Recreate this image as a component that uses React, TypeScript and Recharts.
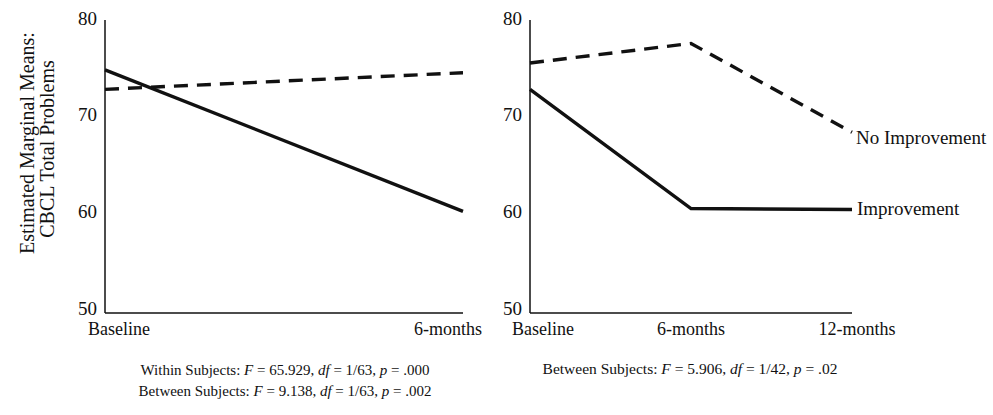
import React from 'react';
import { LineChart, Line, XAxis, YAxis } from 'recharts';

// left panel: two time points
const leftTimes = ['Baseline', '6-months'];
const leftImprovement = [74.9, 60.4];
const leftNoImprovement = [72.9, 74.6];

// right panel: three time points
const rightTimes = ['Baseline', '6-months', '12-months'];
const rightImprovement = [72.9, 60.7, 60.6];
const rightNoImprovement = [75.6, 77.6, 68.5];

const seriesNames = ['Improvement', 'No Improvement'];
const yTicks = [50, 60, 70, 80];

const leftNotes = [
  ['Within Subjects: ', '65.929', '1/63', '.000'],
  ['Between Subjects: ', '9.138', '1/63', '.002'],
];
const rightNotes = [['Between Subjects: ', '5.906', '1/42', '.02']];

const FONT = '"Liberation Serif", "Times New Roman", serif';

const leftData = leftTimes.map((t, i) => ({
  time: t,
  improvement: leftImprovement[i],
  noImprovement: leftNoImprovement[i],
}));

const rightData = rightTimes.map((t, i) => ({
  time: t,
  improvement: rightImprovement[i],
  noImprovement: rightNoImprovement[i],
}));

// labels in the original sit a little off their points
const ShiftedTick = ({ x, y, payload, offsets }: any) => (
  <text
    x={x + (offsets[payload.index] || 0)}
    y={y + 1}
    dy="0.71em"
    textAnchor="middle"
    fontFamily={FONT}
    fontSize={18}
    fill="#111"
  >
    {payload.value}
  </text>
);

// y labels ride a bit above their gridline, more so near the bottom
const YTick = ({ x, y, payload }: any) => (
  <text
    x={x}
    y={y - 2 - (80 - payload.value) / 10}
    dy="0.35em"
    textAnchor="end"
    fontFamily={FONT}
    fontSize={19}
    fill="#111"
  >
    {payload.value}
  </text>
);

const YTitle = () => (
  <g fontFamily={FONT} fontSize={20} fill="#111" textAnchor="middle">
    <text x={34} y={143} transform="rotate(-90, 34, 143)">Estimated Marginal Means:</text>
    <text x={54} y={149} transform="rotate(-90, 54, 149)">CBCL Total Problems</text>
  </g>
);

const endLabel = (name: string, count: number, dx: number, dy: number) => (props: any) => {
  const { x, y, index } = props;
  if (index !== count - 1) return null;
  return (
    <text x={x + dx} y={y + dy} dy="0.35em" fontFamily={FONT} fontSize={19} fill="#111">
      {name}
    </text>
  );
};

const Note = ({ parts }: { parts: string[] }) => (
  <div style={{ whiteSpace: 'nowrap' }}>
    {parts[0]}
    <i>F</i> = {parts[1]}, <i>df</i> = {parts[2]}, <i>p</i> = {parts[3]}
  </div>
);

const axisLine = { stroke: '#111', strokeWidth: 1.5 };

export default function App() {
  return (
    <div style={{ position: 'absolute', left: 0, top: 0, width: 993, height: 415, background: '#fff' }}>
      <div style={{ position: 'absolute', left: 0, top: 0 }}>
        <LineChart width={500} height={345} data={leftData} margin={{ top: 20, right: 37, left: 0, bottom: 0 }}>
          <XAxis
            dataKey="time"
            axisLine={axisLine}
            tickLine={false}
            height={32}
            interval={0}
            tick={<ShiftedTick offsets={[14, -15]} />}
          />
          <YAxis
            domain={[50, 80]}
            ticks={yTicks}
            width={105}
            axisLine={axisLine}
            tickLine={false}
            tick={<YTick />}
            label={{ content: () => <YTitle /> }}
          />
          <Line
            dataKey="noImprovement"
            stroke="#111"
            strokeWidth={3.4}
            strokeDasharray="14 9"
            dot={false}
            isAnimationActive={false}
          />
          <Line dataKey="improvement" stroke="#111" strokeWidth={3.4} dot={false} isAnimationActive={false} />
        </LineChart>
      </div>

      <div style={{ position: 'absolute', left: 500, top: 0 }}>
        <LineChart width={493} height={345} data={rightData} margin={{ top: 20, right: 141, left: 0, bottom: 0 }}>
          <XAxis
            dataKey="time"
            axisLine={axisLine}
            tickLine={false}
            height={32}
            interval={0}
            tick={<ShiftedTick offsets={[13, 0, 5]} />}
          />
          <YAxis
            domain={[50, 80]}
            ticks={yTicks}
            width={30}
            axisLine={axisLine}
            tickLine={false}
            tick={<YTick />}
          />
          <Line
            dataKey="noImprovement"
            name={seriesNames[1]}
            stroke="#111"
            strokeWidth={3.4}
            strokeDasharray="14 9"
            dot={false}
            isAnimationActive={false}
            label={endLabel(seriesNames[1], rightTimes.length, 4, 5)}
          />
          <Line
            dataKey="improvement"
            name={seriesNames[0]}
            stroke="#111"
            strokeWidth={3.4}
            dot={false}
            isAnimationActive={false}
            label={endLabel(seriesNames[0], rightTimes.length, 5, -1)}
          />
        </LineChart>
      </div>

      <div
        style={{
          position: 'absolute',
          left: 85,
          width: 400,
          top: 360,
          textAlign: 'center',
          fontFamily: FONT,
          fontSize: 15,
          lineHeight: '21px',
          color: '#111',
        }}
      >
        {leftNotes.map((n, i) => (
          <Note key={i} parts={n} />
        ))}
      </div>
      <div
        style={{
          position: 'absolute',
          left: 490,
          width: 400,
          top: 358,
          textAlign: 'center',
          fontFamily: FONT,
          fontSize: 15.5,
          lineHeight: '21px',
          color: '#111',
        }}
      >
        {rightNotes.map((n, i) => (
          <Note key={i} parts={n} />
        ))}
      </div>
    </div>
  );
}
